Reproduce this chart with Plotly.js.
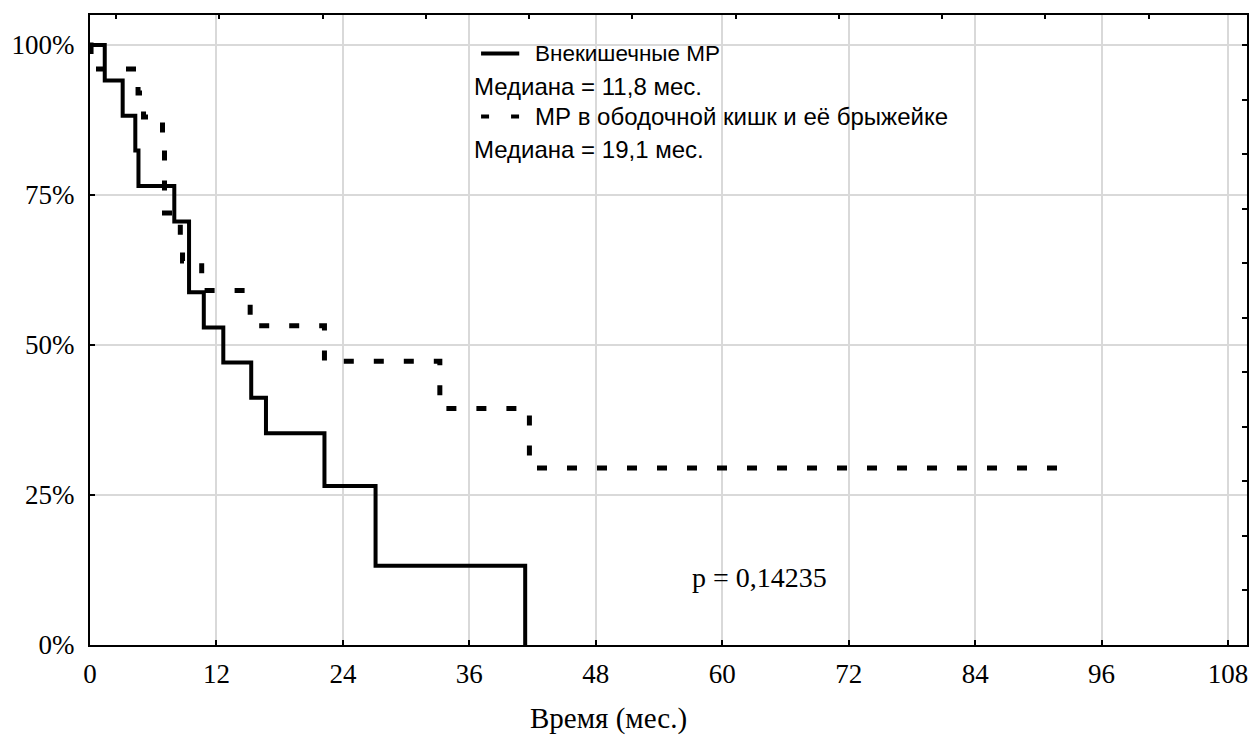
<!DOCTYPE html>
<html>
<head>
<meta charset="utf-8">
<script src="https://cdn.plot.ly/plotly-3.0.1.min.js"></script>
<style>
  html, body { margin: 0; padding: 0; background: #fff; }
  #chart { width: 1253px; height: 737px; }
</style>
</head>
<body>
<div id="chart"></div>
<script>
// Kaplan–Meier survival, months vs cumulative proportion surviving (%)
const extraTimes = [0, 1.4, 3.1, 4.3, 4.6, 8.0, 9.4, 10.8, 12.65, 15.3, 16.7, 22.25, 27.1, 41.3];
const extraSurv  = [100, 94.1, 88.2, 82.4, 76.5, 70.6, 58.8, 52.9, 47.1, 41.2, 35.3, 26.5, 13.2, 0];

const colonTimes = [0, 0.1, 4.56, 5.08, 6.88, 7.07, 8.57, 8.78, 10.6, 15.2, 22.25, 33.2, 41.7, 91.9];
const colonSurv  = [100, 96, 92, 88, 84, 72, 68, 64, 59.1, 53.2, 47.3, 39.4, 29.5, 29.5];

const seriesNames = ['Внекишечные МР', 'МР в ободочной кишк и её брыжейке'];
const medianLabels = ['Медиана = 11,8 мес.', 'Медиана = 19,1 мес.'];
const pValueLabel = 'p = 0,14235';
const xTitle = 'Время (мес.)';

const xTicks = [0, 12, 24, 36, 48, 60, 72, 84, 96, 108];
const yTicks = [0, 25, 50, 75, 100];
const yTickText = yTicks.map(v => v + '%');

const serif = 'Liberation Serif, Times New Roman, serif';
const sans = 'Liberation Sans, Arial, sans-serif';

const traces = [
  {
    x: extraTimes, y: extraSurv, mode: 'lines', name: seriesNames[0],
    line: { shape: 'hv', color: '#000', width: 4 },
    showlegend: false, hoverinfo: 'skip'
  },
  {
    x: colonTimes, y: colonSurv, mode: 'lines', name: seriesNames[1],
    line: { shape: 'hv', color: '#000', width: 5, dash: '10px,20px' },
    showlegend: false, hoverinfo: 'skip'
  },
  // carrier for the secondary (top / right) tick scales
  { x: [null], y: [null], xaxis: 'x2', yaxis: 'y2', mode: 'lines', showlegend: false, hoverinfo: 'skip' }
];

const gridColor = '#d9d9d9';

const layout = {
  width: 1253, height: 737,
  margin: { l: 90, r: 6, t: 15, b: 92 },
  paper_bgcolor: '#fff', plot_bgcolor: '#fff',
  showlegend: false,
  xaxis: {
    range: [0, 109.8], tickvals: xTicks, ticktext: xTicks.map(String),
    showgrid: true, gridcolor: gridColor, gridwidth: 2, zeroline: false,
    showline: true, linecolor: '#000', linewidth: 2, mirror: true,
    ticks: 'inside', ticklen: 5, tickwidth: 2, tickcolor: '#000',
    ticklabelstandoff: 4,
    tickfont: { family: serif, size: 27, color: '#000' }
  },
  yaxis: {
    range: [0, 105], tickvals: yTicks, ticktext: yTickText,
    showgrid: true, gridcolor: gridColor, gridwidth: 2, zeroline: false,
    showline: true, linecolor: '#000', linewidth: 2, mirror: true,
    ticks: 'inside', ticklen: 5, tickwidth: 2, tickcolor: '#000',
    ticklabelstandoff: 8,
    tickfont: { family: serif, size: 27, color: '#000' }
  },
  xaxis2: {
    overlaying: 'x', side: 'top', anchor: 'y2', range: [0, 109.8],
    tick0: 2.47, dtick: 9.8, ticks: 'inside', ticklen: 4, tickwidth: 2, tickcolor: '#000',
    showticklabels: false, showgrid: false, zeroline: false, showline: false
  },
  yaxis2: {
    overlaying: 'y', side: 'right', anchor: 'x2', range: [0, 105],
    tick0: 0, dtick: 100 / 11, ticks: 'inside', ticklen: 5, tickwidth: 2, tickcolor: '#000',
    showticklabels: false, showgrid: false, zeroline: false, showline: false
  },
  shapes: [
    // legend keys
    { type: 'line', xref: 'paper', yref: 'paper', x0: 0.338, x1: 0.371, y0: 0.939, y1: 0.939,
      line: { color: '#000', width: 4 } },
    { type: 'line', xref: 'paper', yref: 'paper', x0: 0.338, x1: 0.371, y0: 0.839, y1: 0.839,
      line: { color: '#000', width: 4, dash: '8px,22px' } }
  ],
  annotations: [
    { xref: 'paper', yref: 'paper', x: 0.383, y: 0.939, xanchor: 'left', yanchor: 'middle',
      text: seriesNames[0], showarrow: false, font: { family: sans, size: 22.5, color: '#000' } },
    { xref: 'paper', yref: 'paper', x: 0.330, y: 0.887, xanchor: 'left', yanchor: 'middle',
      text: medianLabels[0], showarrow: false, font: { family: sans, size: 24, color: '#000' } },
    { xref: 'paper', yref: 'paper', x: 0.383, y: 0.839, xanchor: 'left', yanchor: 'middle',
      text: seriesNames[1], showarrow: false, font: { family: sans, size: 24, color: '#000' } },
    { xref: 'paper', yref: 'paper', x: 0.330, y: 0.786, xanchor: 'left', yanchor: 'middle',
      text: medianLabels[1], showarrow: false, font: { family: sans, size: 24, color: '#000' } },
    { xref: 'paper', yref: 'paper', x: 0.519, y: 0.107, xanchor: 'left', yanchor: 'middle',
      text: pValueLabel, showarrow: false, font: { family: serif, size: 28, color: '#000' } },
    { xref: 'paper', yref: 'paper', x: 0.448, y: -0.117, xanchor: 'center', yanchor: 'middle',
      text: xTitle, showarrow: false, font: { family: serif, size: 29, color: '#000' } }
  ]
};

Plotly.newPlot('chart', traces, layout, { staticPlot: true, displayModeBar: false });
</script>
</body>
</html>
